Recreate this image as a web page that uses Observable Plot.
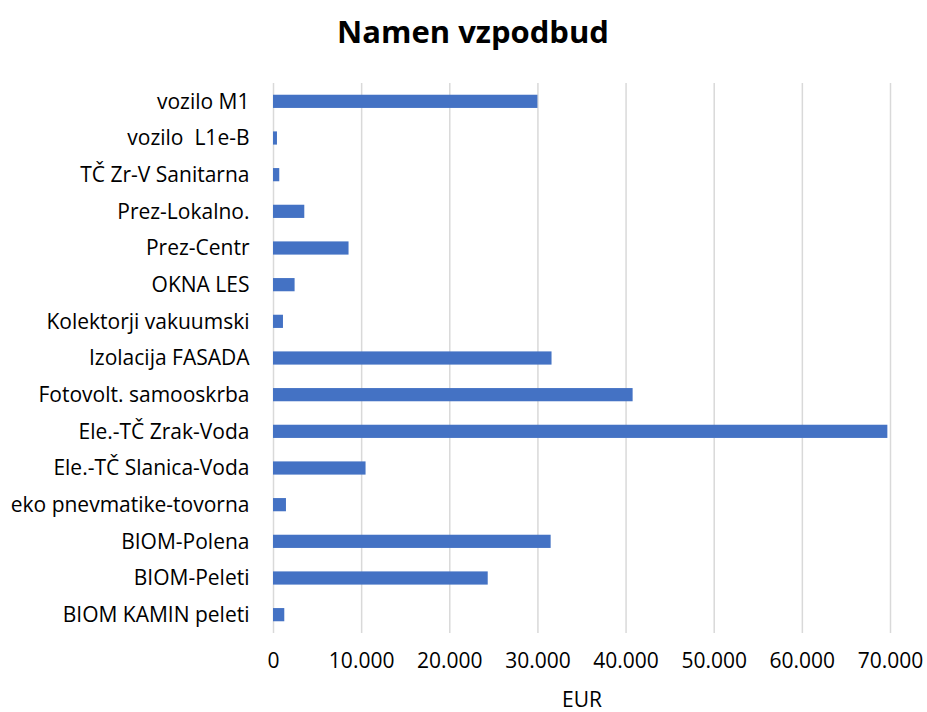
<!DOCTYPE html>
<html>
<head>
<meta charset="utf-8">
<script src="https://cdn.jsdelivr.net/npm/d3@7"></script>
<script src="https://cdn.jsdelivr.net/npm/@observablehq/plot@0.6"></script>
<style>
  body { margin: 0; background: #fff; font-family: "Open Sans", Lato, sans-serif; }
  #wrap { position: relative; width: 927px; height: 712px; }
  #title { height: 62px; line-height: 62px; font-size: 31px; font-weight: bold; color: #000;
           text-align: center; padding-left: 19px; box-sizing: border-box; width: 927px; }
</style>
</head>
<body>
<div id="wrap">
  <div id="title">Namen vzpodbud</div>
  <div id="chart"></div>
</div>
<script>
const categories = [
  "vozilo M1",
  "vozilo  L1e-B",
  "TČ Zr-V Sanitarna",
  "Prez-Lokalno.",
  "Prez-Centr",
  "OKNA LES",
  "Kolektorji vakuumski",
  "Izolacija FASADA",
  "Fotovolt. samooskrba",
  "Ele.-TČ Zrak-Voda",
  "Ele.-TČ Slanica-Voda",
  "eko pnevmatike-tovorna",
  "BIOM-Polena",
  "BIOM-Peleti",
  "BIOM KAMIN peleti"
];
const values = [30000, 450, 710, 3550, 8570, 2450, 1130, 31600, 40800, 69700, 10500, 1470, 31500, 24360, 1280];
const xTicks = [0, 10000, 20000, 30000, 40000, 50000, 60000, 70000];
const xLabel = "EUR";

const data = categories.map((c, i) => ({category: c, value: values[i]}));
const fmt = d3.formatLocale({decimal: ",", thousands: ".", grouping: [3], currency: ["", "€"]}).format(",");

const chart = Plot.plot({
  width: 927,
  height: 650,
  marginTop: 21,
  marginBottom: 79,
  marginLeft: 273,
  marginRight: 37,
  style: {fontFamily: "'Open Sans', Lato, sans-serif", fontSize: "21px", color: "#000", background: "#fff", overflow: "visible"},
  x: {domain: [0, 70000], label: null},
  y: {domain: categories, paddingInner: 0.64, paddingOuter: 0.32, round: false, label: null},
  marks: [
    Plot.ruleX(xTicks, {stroke: "#d9d9d9", strokeWidth: 1.5}),
    Plot.barX(data, {x: "value", y: "category", fill: "#4472c4"}),
    Plot.axisY({tickSize: 0, tickPadding: 24, fontSize: 21, fill: "#000", label: null}),
    Plot.axisX({ticks: xTicks, tickFormat: fmt, tickSize: 0, tickPadding: 20, fontSize: 21, fill: "#000", label: null}),
    Plot.text([xLabel], {frameAnchor: "bottom", lineAnchor: "middle", dy: 67, fontSize: 21, fill: "#000"})
  ]
});
document.getElementById("chart").appendChild(chart);
</script>
</body>
</html>
